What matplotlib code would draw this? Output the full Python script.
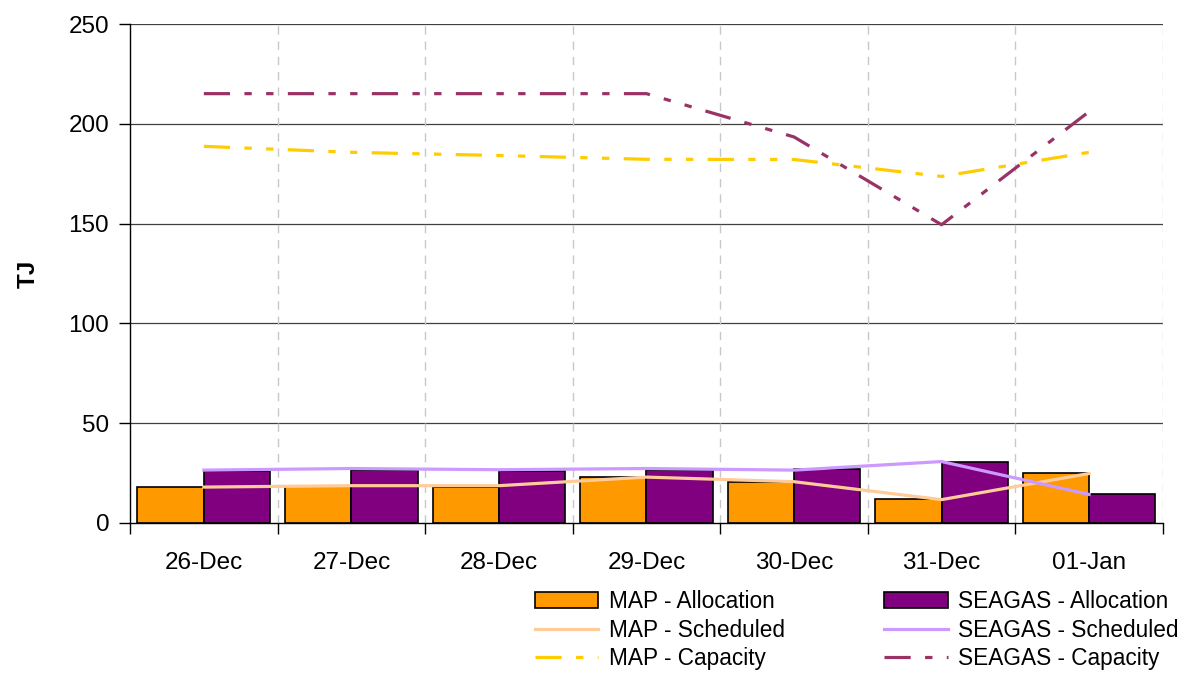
import matplotlib
matplotlib.use("Agg")
import matplotlib.pyplot as plt
import numpy as np

plt.rcParams["font.family"] = ["Liberation Sans", "DejaVu Sans"]

days = ["26-Dec", "27-Dec", "28-Dec", "29-Dec", "30-Dec", "31-Dec", "01-Jan"]

map_alloc = [18, 18.5, 18, 23, 20.5, 12, 25]
seagas_alloc = [26.3, 26.7, 26.2, 26.7, 27.3, 30.8, 14.7]
map_sched = [18, 18.7, 18.7, 23, 20.7, 11.7, 24.8]
seagas_sched = [26.5, 27.3, 26.7, 27.3, 26.5, 30.8, 14.3]
map_cap = [188.8, 185.8, 184.2, 182.3, 182.2, 173.7, 185.8]
seagas_cap = [215.2, 215.2, 215.2, 215.2, 193.5, 149.5, 206.2]

x = np.arange(len(days))
w = 0.45

fig = plt.figure(figsize=(11.77, 6.73), dpi=100)
ax = fig.add_axes([0.1105, 0.2229, 0.8775, 0.7411])

# horizontal grid
for v in [50, 100, 150, 200, 250]:
    ax.axhline(v, color="#404040", lw=0.9, zorder=0)
# vertical dashed grid at category boundaries
for b in np.arange(0.5, 7.0, 1.0):
    ax.axvline(b, color="#c8c8c8", lw=1, ls=(0, (6, 5)), zorder=0)

b1 = ax.bar(x - w / 2, map_alloc, w, color="#FF9900", edgecolor="black", lw=1.2, zorder=2)
b2 = ax.bar(x + w / 2, seagas_alloc, w, color="#800080", edgecolor="black", lw=1.2, zorder=2)

dd = (0, (8.2, 4.5, 2.3, 4.5, 2.3, 4.5))
l1, = ax.plot(x, map_sched, color="#FFCC99", lw=2.3, zorder=3)
l2, = ax.plot(x, seagas_sched, color="#CC99FF", lw=2.3, zorder=3)
l3, = ax.plot(x, map_cap, color="#FFCC00", lw=2.3, ls=dd, zorder=3)
l4, = ax.plot(x, seagas_cap, color="#993366", lw=2.3, ls=dd, zorder=3)

ax.set_xlim(-0.5, 6.5)
ax.set_ylim(0, 250)
ax.set_yticks([0, 50, 100, 150, 200, 250])
ax.set_xticks(x)
ax.set_xticklabels(days)
ax.set_xticks(np.arange(-0.5, 7.0, 1.0), minor=True)
ax.tick_params(axis="x", which="major", length=0, pad=21, labelsize=17.5)
ax.tick_params(axis="x", which="minor", length=8, width=1)
ax.tick_params(axis="y", length=8, width=1, labelsize=17.5, pad=7)

for s in ["top", "right"]:
    ax.spines[s].set_visible(False)
ax.spines["left"].set_linewidth(1)
ax.spines["bottom"].set_linewidth(1)

ax.set_ylabel("TJ", fontsize=17.5, fontweight="bold", labelpad=21)

handles = [b1, l1, l3, b2, l2, l4]
labels = ["MAP - Allocation", "MAP - Scheduled", "MAP - Capacity",
          "SEAGAS - Allocation", "SEAGAS - Scheduled", "SEAGAS - Capacity"]
fig.legend(handles, labels, ncol=2,
           loc="upper left", bbox_to_anchor=(0.4545, 0.123), frameon=False,
           fontsize=16.3, handlelength=2.8, handletextpad=0.45,
           columnspacing=4.4, labelspacing=0.24, borderpad=0, borderaxespad=0)

fig.savefig("out.png", dpi=100)
